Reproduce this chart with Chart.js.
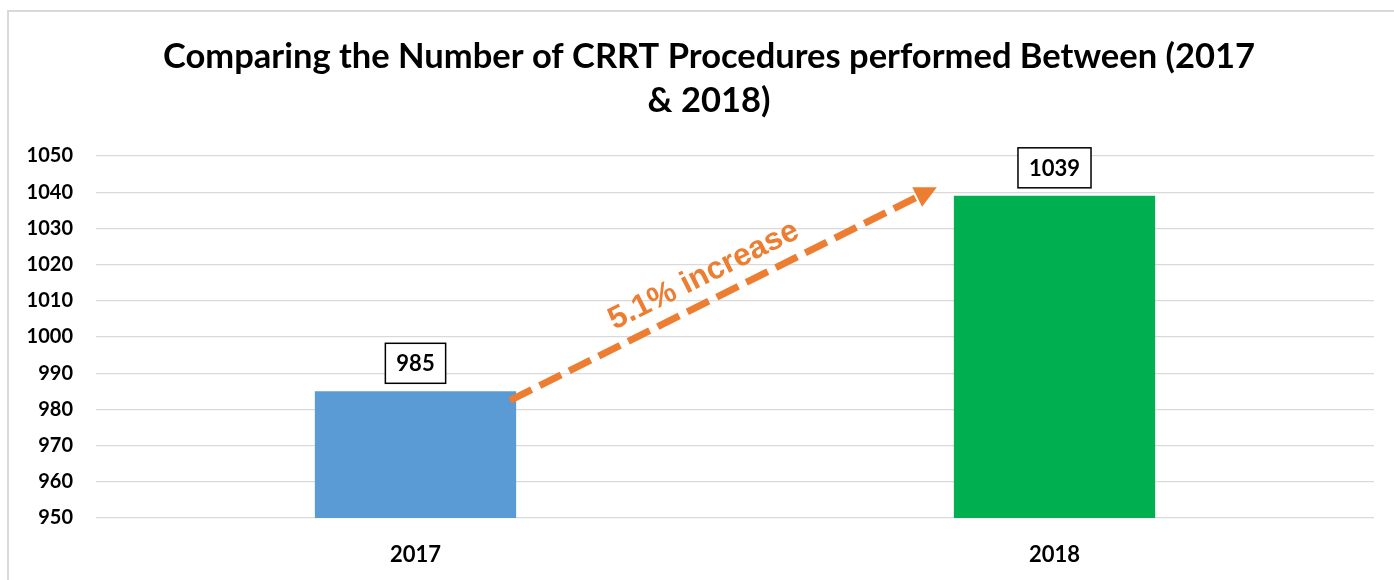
<!DOCTYPE html>
<html>
<head>
<meta charset="utf-8">
<script src="https://cdn.jsdelivr.net/npm/chart.js@4/dist/chart.umd.min.js"></script>
<style>
  html, body { margin: 0; padding: 0; background: #fff; overflow: hidden; }
  #wrap { position: relative; width: 1394px; height: 580px; }
</style>
</head>
<body>
<div id="wrap"><canvas id="c" width="1394" height="580"></canvas></div>
<script>
const categories = ['2017', '2018'];
const procedures = [985, 1039];
const barColors = ['#5B9BD5', '#00B050'];
const titleLines = ['Comparing the Number of CRRT Procedures performed Between (2017', '& 2018)'];
const increaseLabel = '5.1% increase';
const yMin = 950, yMax = 1050, yStep = 10;

const frame = {
  id: 'frame',
  beforeDraw(chart) {
    const ctx = chart.ctx;
    ctx.save();
    ctx.fillStyle = '#fff';
    ctx.fillRect(0, 0, chart.width, chart.height);
    ctx.strokeStyle = '#d9d9d9';
    ctx.lineWidth = 2;
    ctx.beginPath();
    ctx.moveTo(8, chart.height + 2);
    ctx.lineTo(8, 11);
    ctx.lineTo(chart.width + 2, 11);
    ctx.stroke();
    ctx.fillStyle = '#000';
    ctx.font = 'bold 34.5px Lato';
    ctx.textAlign = 'center';
    ctx.textBaseline = 'middle';
    const cx = (8 + chart.width + 16) / 2;
    titleLines.forEach((line, i) => ctx.fillText(line, cx, 57 + i * 44));
    ctx.restore();
  }
};

const labelsAndArrow = {
  id: 'labelsAndArrow',
  afterDatasetsDraw(chart) {
    const ctx = chart.ctx;
    const meta = chart.getDatasetMeta(0);
    const ys = chart.scales.y;
    ctx.save();
    ctx.font = 'bold 22px Lato';
    ctx.textAlign = 'center';
    ctx.textBaseline = 'middle';
    meta.data.forEach((bar, i) => {
      const txt = String(procedures[i]);
      const w = ctx.measureText(txt).width + 22;
      const h = 40;
      const bottom = bar.y - 8;
      ctx.fillStyle = '#fff';
      ctx.fillRect(bar.x - w / 2, bottom - h, w, h);
      ctx.strokeStyle = '#000';
      ctx.lineWidth = 1.5;
      ctx.strokeRect(bar.x - w / 2, bottom - h, w, h);
      ctx.fillStyle = '#000';
      ctx.fillText(txt, bar.x, bottom - h / 2 + 1);
    });
    const b0 = meta.data[0], b1 = meta.data[1];
    const x0 = b0.x + b0.width / 2 - 6;
    const y0 = ys.getPixelForValue(procedures[0] - 2.5);
    const x1 = b1.x - b1.width / 2 - 17;
    const y1 = ys.getPixelForValue(procedures[1] + 2.4);
    const ang = Math.atan2(y1 - y0, x1 - x0);
    const headLen = 22, headW = 11;
    const ex = x1 - headLen * Math.cos(ang), ey = y1 - headLen * Math.sin(ang);
    ctx.strokeStyle = '#ED7D31';
    ctx.lineWidth = 7;
    ctx.lineCap = 'butt';
    ctx.setLineDash([24, 9]);
    ctx.beginPath();
    ctx.moveTo(x0, y0);
    ctx.lineTo(ex, ey);
    ctx.stroke();
    ctx.setLineDash([]);
    ctx.fillStyle = '#ED7D31';
    ctx.beginPath();
    ctx.moveTo(x1, y1);
    ctx.lineTo(ex + headW * Math.sin(ang), ey - headW * Math.cos(ang));
    ctx.lineTo(ex - headW * Math.sin(ang), ey + headW * Math.cos(ang));
    ctx.closePath();
    ctx.fill();
    const t = 0.48, off = 25;
    const px = x0 + (x1 - x0) * t + off * Math.sin(ang);
    const py = y0 + (y1 - y0) * t - off * Math.cos(ang);
    ctx.translate(px, py);
    ctx.rotate(ang);
    ctx.font = 'bold 31.5px "Liberation Sans"';
    ctx.fillStyle = '#ED7D31';
    ctx.textAlign = 'center';
    ctx.textBaseline = 'middle';
    ctx.fillText(increaseLabel, 0, 0);
    ctx.restore();
  }
};

new Chart(document.getElementById('c'), {
  type: 'bar',
  data: {
    labels: categories,
    datasets: [{
      data: procedures,
      backgroundColor: barColors,
      borderWidth: 0,
      barPercentage: 0.315,
      categoryPercentage: 1
    }]
  },
  options: {
    responsive: false,
    animation: false,
    devicePixelRatio: 1,
    layout: { padding: { left: 0, right: 20, top: 156, bottom: 14 } },
    plugins: {
      legend: { display: false },
      tooltip: { enabled: false },
      title: { display: false }
    },
    scales: {
      x: {
        afterFit(s) { s.height = 48; },
        grid: { display: false, drawTicks: false },
        border: { display: false },
        ticks: { color: '#000', font: { family: 'Lato', weight: 'bold', size: 22 }, padding: 24 }
      },
      y: {
        min: yMin, max: yMax,
        afterFit(s) { s.width = 96; },
        grid: { color: '#d9d9d9', lineWidth: 1.3, drawTicks: false },
        border: { display: false },
        ticks: {
          stepSize: yStep, color: '#000',
          font: { family: 'Lato', weight: 'bold', size: 20 }, padding: 23,
          callback: (v) => String(v)
        }
      }
    }
  },
  plugins: [frame, labelsAndArrow]
});
</script>
</body>
</html>
